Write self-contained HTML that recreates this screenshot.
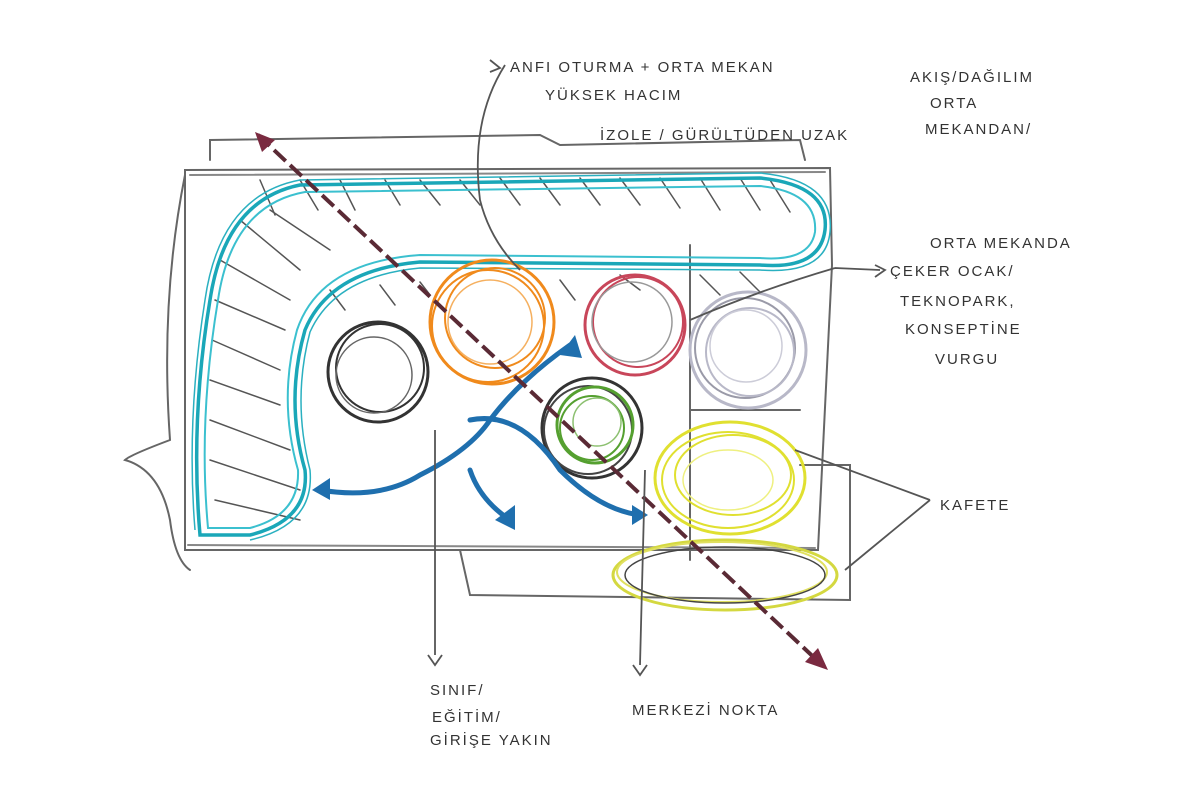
<!DOCTYPE html>
<html><head><meta charset="utf-8"><style>
body{margin:0;background:#fff;}
svg{display:block}
text{font-family:"Liberation Sans",sans-serif;fill:#333;font-size:15px;letter-spacing:2px}
</style></head><body>
<svg width="1200" height="800" viewBox="0 0 1200 800" xmlns="http://www.w3.org/2000/svg">
<rect width="1200" height="800" fill="#fff"/>
<g fill="none" stroke="#666" stroke-width="2" stroke-linecap="round">
<path d="M185 170 L830 168 L832 265 L818 550 L185 550 Z"/>
<path d="M190 175 L825 172 M188 545 L815 548" stroke="#888"/>
<path d="M210 160 L210 140 L540 135 L560 145 L800 140 L805 160"/>
<path d="M185 175 Q160 300 170 440 Q130 455 125 460 Q160 470 170 520 Q175 560 190 570"/>
<path d="M460 550 L470 595 L850 600 L850 465 L800 465"/>
<path d="M690 245 L690 560 M690 410 L800 410"/>
<g stroke="#555" stroke-width="1.5">
<path d="M260 180 L275 215 M300 180 L318 210 M340 180 L355 210 M385 180 L400 205 M420 180 L440 205 M460 180 L480 205 M500 178 L520 205 M540 178 L560 205 M580 178 L600 205 M620 178 L640 205 M660 178 L680 208 M700 178 L720 210 M740 178 L760 210 M770 180 L790 212"/>
<path d="M220 260 L290 300 M215 300 L285 330 M212 340 L280 370 M210 380 L280 405 M210 420 L290 450 M210 460 L300 490 M215 500 L300 520 M240 220 L300 270 M270 210 L330 250"/>
<path d="M330 290 L345 310 M380 285 L395 305 M420 282 L430 295 M560 280 L575 300 M620 275 L640 290 M700 275 L720 295 M740 272 L760 292"/>
</g>
</g>
<g fill="none" stroke="#1aa7b8" stroke-width="3.5">
<path d="M200 535 Q190 420 210 300 Q225 200 300 185 L760 178 Q830 185 825 230 Q820 270 760 265 L420 262 Q330 270 305 330 Q285 400 305 470 Q310 520 250 535 Z"/>
<path d="M208 528 Q198 420 218 300 Q232 205 305 192 L760 186 Q818 192 815 232 Q810 262 760 258 L420 255 Q320 262 297 330 Q278 400 298 470 Q300 515 250 528 Z" stroke-width="2" stroke="#3bc0cf"/>
<path d="M195 530 Q186 420 205 300 Q220 195 300 180 L760 173 Q835 180 830 232 Q826 275 760 270 L420 268 Q335 276 310 332 Q292 400 310 470 Q315 525 250 540" stroke-width="1.5" stroke="#2ab0c0"/>
</g>
<g fill="none" stroke-width="3">
<g stroke="#f08a1c"><circle cx="492" cy="322" r="62"/><circle cx="488" cy="326" r="56" stroke-width="2"/><circle cx="495" cy="318" r="50" stroke-width="2"/><circle cx="490" cy="322" r="42" stroke-width="1.5" stroke="#f5b060"/></g>
<g stroke="#333"><circle cx="378" cy="372" r="50"/><circle cx="380" cy="368" r="44" stroke-width="2"/><circle cx="374" cy="375" r="38" stroke-width="1.5" stroke="#666"/></g>
<g stroke="#c8465a"><circle cx="635" cy="325" r="50"/><circle cx="638" cy="322" r="45" stroke-width="2"/><circle cx="632" cy="322" r="40" stroke-width="1.5" stroke="#999"/></g>
<g stroke="#b8b8c8"><circle cx="748" cy="350" r="58"/><circle cx="745" cy="348" r="50" stroke-width="2" stroke="#9a9aa8"/><circle cx="750" cy="352" r="44" stroke-width="2"/><circle cx="746" cy="346" r="36" stroke-width="1.5" stroke="#ccccd8"/></g>
<circle cx="592" cy="428" r="50" stroke="#333"/>
<circle cx="588" cy="430" r="44" stroke="#444" stroke-width="2"/>
<g stroke="#55a030"><circle cx="595" cy="425" r="38"/><circle cx="592" cy="428" r="32" stroke-width="2"/><circle cx="597" cy="422" r="24" stroke-width="1.5" stroke="#8cc070"/></g>
<g stroke="#e0e030"><ellipse cx="730" cy="478" rx="75" ry="56"/><ellipse cx="728" cy="480" rx="66" ry="48" stroke-width="2"/><ellipse cx="733" cy="475" rx="58" ry="40" stroke-width="2"/><ellipse cx="728" cy="480" rx="45" ry="30" stroke-width="1.5" stroke="#eef080"/></g>
<ellipse cx="725" cy="575" rx="112" ry="35" stroke="#d4d840"/>
<ellipse cx="722" cy="572" rx="105" ry="30" stroke="#e0e060" stroke-width="2"/>
<ellipse cx="725" cy="575" rx="100" ry="28" stroke="#444" stroke-width="1.5"/>
</g>
<g fill="none" stroke="#1f6fae" stroke-width="5" stroke-linecap="round">
<path d="M320 490 Q380 500 420 475 Q470 450 490 420 Q520 380 570 345"/>
<path d="M470 470 Q480 500 510 520"/>
<path d="M470 420 Q520 410 560 470 Q600 510 640 515"/>
</g>
<g fill="#1f6fae">
<path d="M312 490 L330 478 L330 500 Z"/>
<path d="M575 335 L560 355 L582 358 Z"/>
<path d="M515 530 L495 520 L515 505 Z"/>
<path d="M648 515 L632 505 L632 525 Z"/>
</g>
<line x1="258" y1="135" x2="822" y2="665" stroke="#5a2a35" stroke-width="4" stroke-dasharray="16 6"/>
<path d="M255 132 L275 140 L262 152 Z M828 670 L805 662 L818 648 Z" fill="#7a2a40"/>
<g fill="none" stroke="#555" stroke-width="1.8">
<path d="M505 65 Q470 120 480 200 Q490 240 520 270"/>
<path d="M490 60 L500 68 L490 72"/>
<path d="M835 268 L880 270 M690 320 Q760 290 835 268"/>
<path d="M875 265 L885 270 L875 277"/>
<path d="M795 450 L930 500 M845 570 L930 500"/>
<path d="M435 430 L435 655 M428 655 L435 665 L442 655"/>
<path d="M645 470 L640 665 M633 665 L640 675 L647 665"/>
</g>
<text x="510" y="72">ANFI OTURMA + ORTA MEKAN</text>
<text x="545" y="100" font-size="12">YÜKSEK HACIM</text>
<text x="600" y="140">İZOLE / GÜRÜLTÜDEN UZAK</text>
<text x="910" y="82" font-size="13">AKIŞ/DAĞILIM</text>
<text x="930" y="108" font-size="13">ORTA</text>
<text x="925" y="134" font-size="13">MEKANDAN/</text>
<text x="930" y="248" font-size="13">ORTA MEKANDA</text>
<text x="890" y="276">ÇEKER OCAK/</text>
<text x="900" y="306" font-size="14">TEKNOPARK,</text>
<text x="905" y="334" font-size="14">KONSEPTİNE</text>
<text x="935" y="364" font-size="14">VURGU</text>
<text x="940" y="510" font-size="14">KAFETE</text>
<text x="430" y="695" font-size="18">SINIF/</text>
<text x="432" y="722" font-size="13">EĞİTİM/</text>
<text x="430" y="745" font-size="11">GİRİŞE YAKIN</text>
<text x="632" y="715" font-size="17">MERKEZİ NOKTA</text>
</svg>
</body></html>
